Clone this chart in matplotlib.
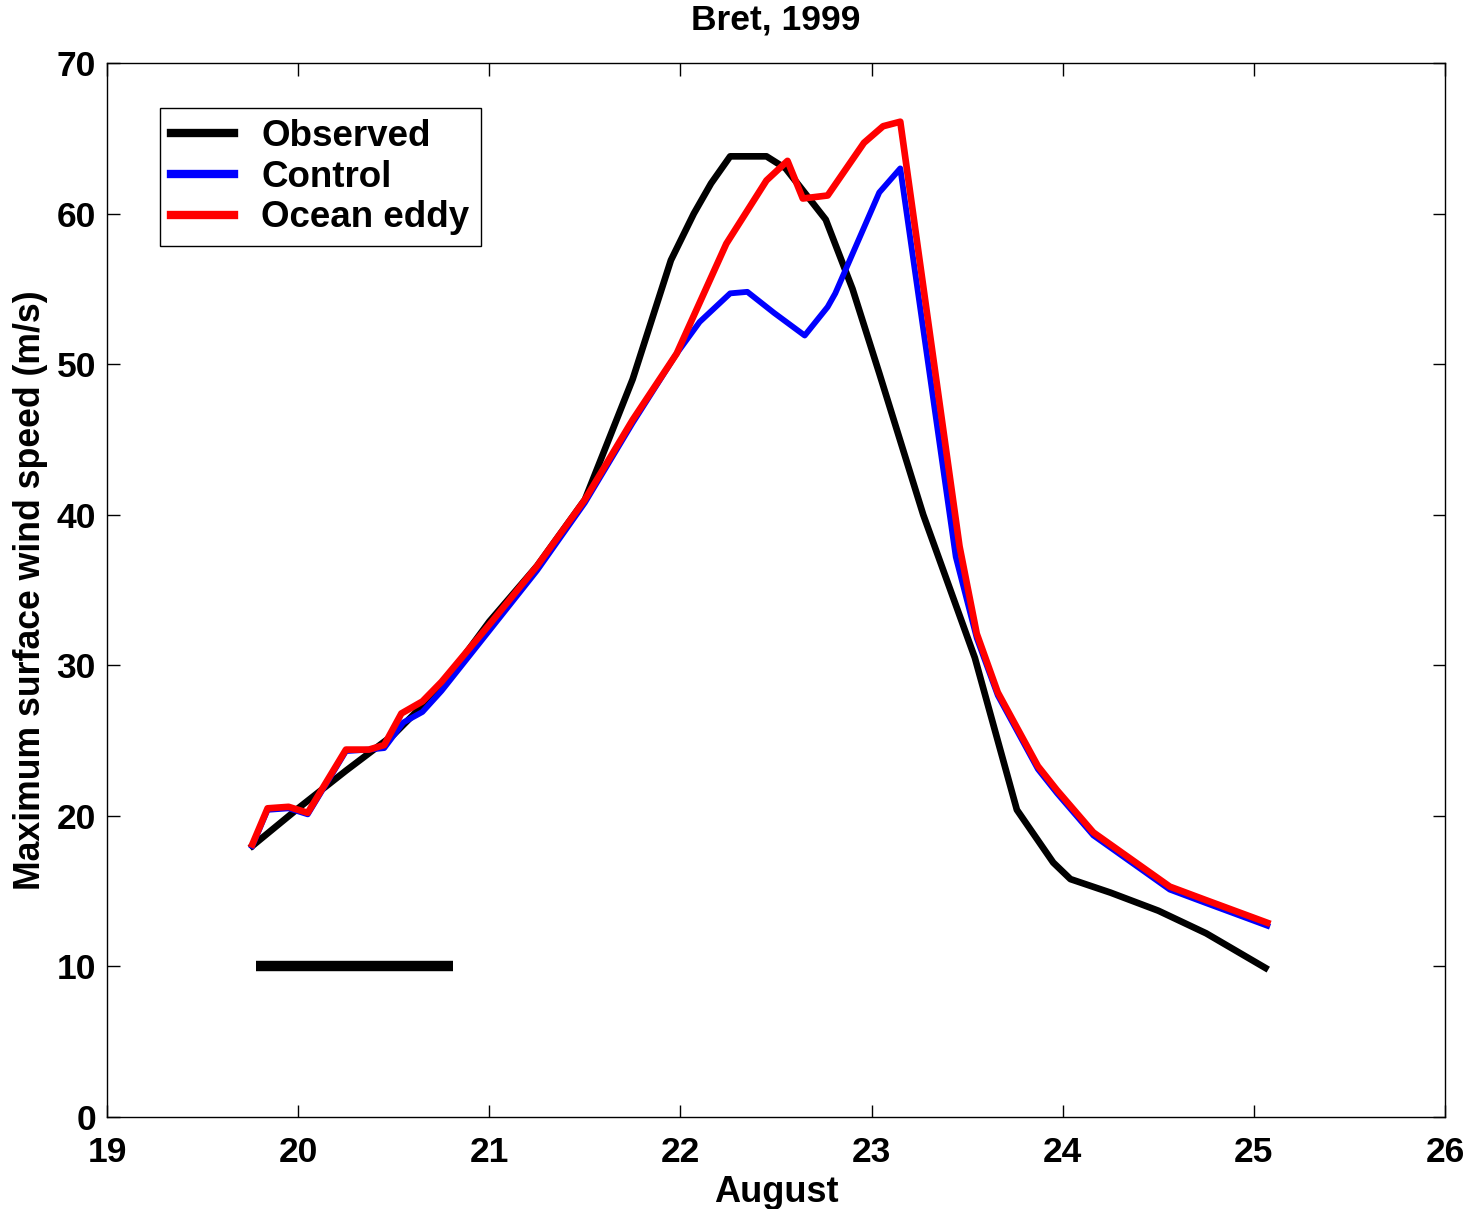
import matplotlib
matplotlib.use("Agg")
import matplotlib.pyplot as plt

# Observed maximum surface wind (m/s) vs day of August
obs_day = [19.76, 20.0, 20.25, 20.5, 20.75, 21.0, 21.25, 21.5, 21.75, 21.95,
           22.07, 22.16, 22.26, 22.45, 22.55, 22.76, 22.9, 23.04, 23.27, 23.54, 23.76, 23.95,
           24.04, 24.25, 24.5, 24.75, 25.06]
obs_wind = [18.0, 20.5, 23.0, 25.4, 28.6, 32.9, 36.6, 41.0, 49.0, 56.9,
            60.0, 62.0, 63.8, 63.8, 63.0, 59.6, 55.0, 49.4, 40.0, 30.5, 20.4, 16.9,
            15.8, 14.9, 13.7, 12.2, 9.9]

# Control run
ctl_day = [19.76, 19.84, 19.95, 20.05, 20.25, 20.37, 20.45, 20.55, 20.65, 20.75,
           21.0, 21.25, 21.5, 21.75, 21.98, 22.1, 22.26, 22.35, 22.49, 22.65,
           22.77, 22.81, 23.04, 23.15, 23.44, 23.55, 23.66, 23.87, 23.97, 24.16,
           24.36, 24.56, 24.75, 25.07]
ctl_wind = [18.0, 20.4, 20.5, 20.1, 24.3, 24.4, 24.5, 26.2, 26.9, 28.3,
            32.3, 36.3, 40.8, 46.1, 50.7, 52.8, 54.7, 54.8, 53.4, 51.9,
            53.8, 54.7, 61.4, 63.0, 37.2, 31.8, 28.0, 23.1, 21.5, 18.7,
            16.9, 15.1, 14.2, 12.7]

# Ocean eddy run
edd_day = [19.76, 19.84, 19.95, 20.05, 20.25, 20.37, 20.45, 20.54, 20.65, 20.75,
           21.0, 21.25, 21.5, 21.75, 21.98, 22.24, 22.45, 22.56, 22.64, 22.77,
           22.96, 23.06, 23.15, 23.46, 23.55, 23.66, 23.87, 23.97, 24.16, 24.36,
           24.56, 24.75, 25.07]
edd_wind = [18.1, 20.5, 20.6, 20.2, 24.4, 24.4, 24.7, 26.8, 27.6, 28.9,
            32.7, 36.6, 41.0, 46.3, 50.7, 58.0, 62.2, 63.5, 61.0, 61.2,
            64.7, 65.8, 66.1, 37.9, 32.1, 28.2, 23.3, 21.7, 18.9, 17.1,
            15.3, 14.4, 12.9]

# scale bar at bottom left
bar_day = [19.78, 20.81]
bar_wind = [10, 10]

plt.rcParams['font.family'] = ['Liberation Sans', 'DejaVu Sans']
plt.rcParams['font.weight'] = 'bold'

fig = plt.figure(figsize=(14.72, 12.09), dpi=100)
ax = fig.add_axes([0.0727, 0.0761, 0.9090, 0.8718])

ax.plot(obs_day, obs_wind, color='black', lw=4.8, label='Observed')
ax.plot(ctl_day, ctl_wind, color='blue', lw=4.2, label='Control')
ax.plot(edd_day, edd_wind, color='red', lw=4.8, label='Ocean eddy')
ax.plot(bar_day, bar_wind, color='black', lw=7.5, solid_capstyle='butt')

ax.set_xlim(19, 26)
ax.set_ylim(0, 70)
ax.set_xticks(range(19, 27))
ax.set_yticks(range(0, 71, 10))
ax.tick_params(direction='in', top=True, right=True, length=9, width=1,
               labelsize=25.5)
ax.tick_params(axis='x', pad=14)
ax.tick_params(axis='y', pad=8)
for s in ax.spines.values():
    s.set_linewidth(1)

ax.set_title('Bret, 1999', fontsize=25.5, pad=24, fontweight='bold')
ax.set_xlabel('August', fontsize=26, labelpad=4, fontweight='bold')
ax.set_ylabel('Maximum surface wind speed (m/s)', fontsize=25.7, labelpad=6, fontweight='bold')

leg = ax.legend(loc='upper left', bbox_to_anchor=(0.0396, 0.957),
                prop={'size': 26.5, 'weight': 'bold'},
                handlelength=1.7, handletextpad=0.75, borderpad=0.3,
                labelspacing=0.15, fancybox=False, edgecolor='black',
                framealpha=1, borderaxespad=0)
leg.get_frame().set_linewidth(1)
for h in leg.get_lines():
    h.set_linewidth(6)

fig.savefig('out.png', dpi=100)
